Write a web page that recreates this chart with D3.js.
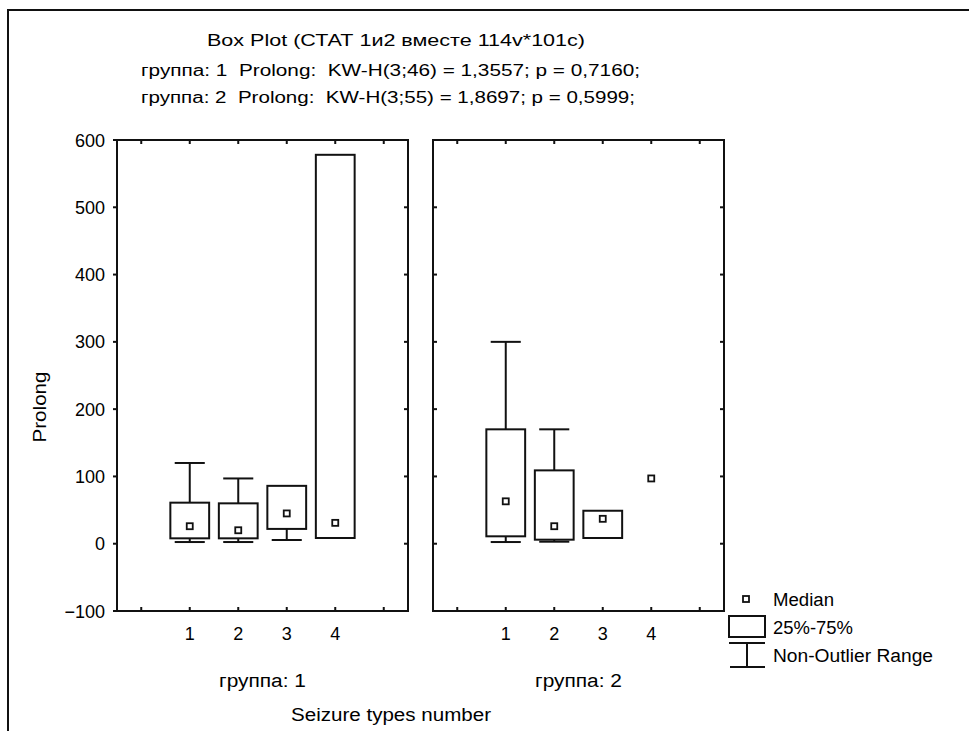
<!DOCTYPE html>
<html>
<head>
<meta charset="utf-8">
<script src="https://cdn.jsdelivr.net/npm/d3@7"></script>
<style>
  body { margin: 0; background: #fff; }
  text { font-family: "Liberation Sans", Arial, sans-serif; fill: #000; white-space: pre; }
</style>
</head>
<body>
<svg width="969" height="731"></svg>
<script>
const categories = [1, 2, 3, 4];
const groupNames = ["группа: 1", "группа: 2"];

// group 1: min, q1, median, q3, max
const g1Low = [2.5, 2.5, 5.5, 8.5];
const g1Q1 = [8, 8, 22, 8.5];
const g1Median = [26, 20, 45, 31];
const g1Q3 = [61, 60, 86, 578];
const g1High = [120, 97, 86, 578];

// group 2
const g2Low = [2.5, 3, 8.5, 97];
const g2Q1 = [11, 6, 8.5, 97];
const g2Median = [63, 26, 37, 97];
const g2Q3 = [170, 109, 49, 97];
const g2High = [300, 170, 49, 97];

const yTicks = [-100, 0, 100, 200, 300, 400, 500, 600];
const titleLines = [
  "Box Plot (СТАТ 1и2 вместе 114v*101c)",
  "группа: 1  Prolong:  KW-H(3;46) = 1,3557; p = 0,7160;",
  "группа: 2  Prolong:  KW-H(3;55) = 1,8697; p = 0,5999;"
];

const groups = [
  { name: groupNames[0], low: g1Low, q1: g1Q1, median: g1Median, q3: g1Q3, high: g1High },
  { name: groupNames[1], low: g2Low, q1: g2Q1, median: g2Median, q3: g2Q3, high: g2High }
];

const svg = d3.select("svg");

svg.append("rect").attr("width", 969).attr("height", 731).attr("fill", "#fff");

// outer frame (top and left only visible)
svg.append("path")
  .attr("d", "M8,731 L8,10 L969,10")
  .attr("fill", "none")
  .attr("stroke", "#111")
  .attr("stroke-width", 2);

// titles
svg.append("text")
  .attr("x", 396).attr("y", 46)
  .attr("text-anchor", "middle")
  .style("font-size", "16px")
  .attr("textLength", 378)
  .attr("lengthAdjust", "spacingAndGlyphs")
  .text(titleLines[0]);

svg.append("text")
  .attr("x", 141).attr("y", 76)
  .style("font-size", "16px")
  .attr("textLength", 499)
  .attr("lengthAdjust", "spacingAndGlyphs")
  .text(titleLines[1]);

svg.append("text")
  .attr("x", 141).attr("y", 103)
  .style("font-size", "16px")
  .attr("textLength", 494)
  .attr("lengthAdjust", "spacingAndGlyphs")
  .text(titleLines[2]);

const y = d3.scaleLinear().domain([-100, 600]).range([611, 140]);

const panels = [
  { left: 117, right: 408 },
  { left: 433, right: 724 }
];

panels.forEach((p, gi) => {
  const x = d3.scaleLinear().domain([-0.5, 5.5]).range([p.left, p.right]);
  const g = svg.append("g");
  const grp = groups[gi];

  // frame
  g.append("rect")
    .attr("x", p.left).attr("y", y(600))
    .attr("width", p.right - p.left).attr("height", y(-100) - y(600))
    .attr("fill", "none").attr("stroke", "#111").attr("stroke-width", 2);

  // top / bottom inward ticks
  const xt = d3.range(0, 6);
  g.selectAll(".tt").data(xt).enter().append("line")
    .attr("x1", d => x(d)).attr("x2", d => x(d))
    .attr("y1", y(600)).attr("y2", y(600) + 4)
    .attr("stroke", "#111").attr("stroke-width", 2);
  g.selectAll(".bt").data(xt).enter().append("line")
    .attr("x1", d => x(d)).attr("x2", d => x(d))
    .attr("y1", y(-100)).attr("y2", y(-100) - 4)
    .attr("stroke", "#111").attr("stroke-width", 2);

  // side ticks
  g.selectAll(".rt").data(yTicks).enter().append("line")
    .attr("x1", p.right).attr("x2", p.right - 4)
    .attr("y1", d => y(d)).attr("y2", d => y(d))
    .attr("stroke", "#111").attr("stroke-width", 2);
  g.selectAll(".lt").data(yTicks).enter().append("line")
    .attr("x1", p.left).attr("x2", gi === 0 ? p.left - 4 : p.left + 4)
    .attr("y1", d => y(d)).attr("y2", d => y(d))
    .attr("stroke", "#111").attr("stroke-width", 2);

  // category labels
  g.selectAll(".cl").data(categories).enter().append("text")
    .attr("x", d => x(d)).attr("y", 640)
    .attr("text-anchor", "middle")
    .style("font-size", "18px")
    .text(d => d);

  g.append("text")
    .attr("x", (x(1) + x(4)) / 2).attr("y", 687)
    .attr("text-anchor", "middle")
    .style("font-size", "18px")
    .attr("textLength", 87)
    .attr("lengthAdjust", "spacingAndGlyphs")
    .text(grp.name);

  const bw = x(0.4) - x(0);
  const cw = x(0.31) - x(0);

  categories.forEach((c, i) => {
    const cx = x(c);
    const lo = grp.low[i], q1 = grp.q1[i], md = grp.median[i], q3 = grp.q3[i], hi = grp.high[i];
    const line = (x1, y1, x2, y2) => g.append("line")
      .attr("x1", x1).attr("y1", y1).attr("x2", x2).attr("y2", y2)
      .attr("stroke", "#111").attr("stroke-width", 2);

    if (hi > q3) {
      line(cx, y(q3), cx, y(hi));
      line(cx - cw, y(hi), cx + cw, y(hi));
    }
    if (lo < q1) {
      line(cx, y(q1), cx, y(lo));
      line(cx - cw, y(lo), cx + cw, y(lo));
    }
    if (q3 > q1) {
      g.append("rect")
        .attr("x", cx - bw).attr("y", y(q3))
        .attr("width", 2 * bw).attr("height", y(q1) - y(q3))
        .attr("fill", "none").attr("stroke", "#111").attr("stroke-width", 2);
    }
    g.append("rect")
      .attr("x", cx - 3).attr("y", y(md) - 3)
      .attr("width", 6).attr("height", 6)
      .attr("fill", "#fff").attr("stroke", "#111").attr("stroke-width", 1.8);
  });
});

// y axis labels
svg.selectAll(".yl").data(yTicks).enter().append("text")
  .attr("x", 105).attr("y", d => y(d) + 6.5)
  .attr("text-anchor", "end")
  .style("font-size", "18px")
  .text(d => d === -100 ? "\u2212100" : d);

svg.append("text")
  .attr("transform", "translate(46,407) rotate(-90)")
  .attr("text-anchor", "middle")
  .style("font-size", "18px")
  .attr("textLength", 71)
  .attr("lengthAdjust", "spacingAndGlyphs")
  .text("Prolong");

svg.append("text")
  .attr("x", 391).attr("y", 721)
  .attr("text-anchor", "middle")
  .style("font-size", "18px")
  .attr("textLength", 200)
  .attr("lengthAdjust", "spacingAndGlyphs")
  .text("Seizure types number");

// legend
const lg = svg.append("g");
lg.append("rect")
  .attr("x", 743).attr("y", 596).attr("width", 6).attr("height", 6)
  .attr("fill", "#fff").attr("stroke", "#111").attr("stroke-width", 1.8);
lg.append("rect")
  .attr("x", 729).attr("y", 616).attr("width", 36).attr("height", 21)
  .attr("fill", "none").attr("stroke", "#111").attr("stroke-width", 2);
lg.append("path")
  .attr("d", "M729,643 L765,643 M747,643 L747,667 M730,667 L765,667")
  .attr("fill", "none").attr("stroke", "#111").attr("stroke-width", 2);

const legendLabels = ["Median", "25%-75%", "Non-Outlier Range"];
const legendY = [606, 634, 662];
const legendW = [61, 80, 160];
lg.selectAll(".lt").data(legendLabels).enter().append("text")
  .attr("x", 773).attr("y", (d, i) => legendY[i])
  .style("font-size", "18px")
  .attr("textLength", (d, i) => legendW[i])
  .attr("lengthAdjust", "spacingAndGlyphs")
  .text(d => d);
</script>
</body>
</html>
